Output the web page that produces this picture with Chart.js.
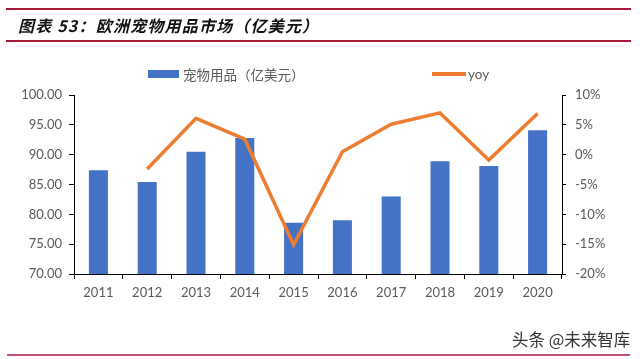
<!DOCTYPE html>
<html>
<head>
<meta charset="utf-8">
<script src="https://cdn.jsdelivr.net/npm/chart.js@4/dist/chart.umd.min.js"></script>
<style>
  html, body { margin: 0; padding: 0; background: #fff; }
  #wrap { position: relative; width: 640px; height: 359px; overflow: hidden; }
  canvas { position: absolute; left: 0; top: 0; }
  .hline { position: absolute; height: 1.5px; }
  .txt { position: absolute; white-space: nowrap; }
</style>
</head>
<body>
<div id="wrap">
  <canvas id="c" width="640" height="359"></canvas>
  <div class="hline" style="left:6px; width:625px; top:8px; background:#a8173a;"></div>
  <div class="hline" style="left:6px; width:625px; top:40px; background:#a8173a;"></div>
  <div class="txt" style="left:18px; top:14px; font:italic bold 16px 'Noto Sans CJK SC'; color:#111; line-height:22px; letter-spacing:1.2px;">图表 53：欧洲宠物用品市场（亿美元）</div>
  <div style="position:absolute; left:148px; top:70px; width:31px; height:8px; background:#4472C4;"></div>
  <div class="txt" style="left:183px; top:64px; font:13.5px 'Noto Sans CJK SC'; color:#595959; line-height:20px;">宠物用品（亿美元）</div>
  <div style="position:absolute; left:432px; top:72px; width:34px; height:3.5px; background:#ED7D31;"></div>
  <div class="txt" style="left:468px; top:64px; font:13.5px Lato; color:#595959; line-height:20px;">yoy</div>
  <div class="txt" style="left:512px; top:328px; font:16.5px 'Noto Sans CJK SC'; color:#333; line-height:22px;">头条 @未来智库</div>
  <div class="hline" style="left:7px; width:623px; top:354px; height:2px; background:#c2507a;"></div>
</div>
<script>
const years = ['2011','2012','2013','2014','2015','2016','2017','2018','2019','2020'];
const marketValues = [87.4, 85.4, 90.5, 92.8, 78.6, 79.0, 83.0, 88.9, 88.1, 94.1];
const yoyValues = [null, -2.4, 6.1, 2.6, -15.1, 0.5, 5.1, 7.0, -0.9, 6.9];
const leftTicks = [70, 100, 5];
const rightTicks = [-20, 10, 5];

const tickFont = { family: 'Lato', size: 13 };
new Chart(document.getElementById('c'), {
  data: {
    labels: years,
    datasets: [
      {
        type: 'line', label: 'yoy', data: yoyValues, yAxisID: 'y2',
        borderColor: '#ED7D31', borderWidth: 3.5, pointRadius: 0, tension: 0,
        spanGaps: false, order: 0
      },
      {
        type: 'bar', label: '宠物用品（亿美元）', data: marketValues, yAxisID: 'y',
        backgroundColor: '#4472C4', categoryPercentage: 1, barPercentage: 0.39, order: 1
      }
    ]
  },
  options: {
    responsive: false, animation: false, devicePixelRatio: 1,
    layout: { padding: { top: 95, left: 0, right: 0, bottom: 0 } },
    plugins: { legend: { display: false }, tooltip: { enabled: false } },
    scales: {
      x: {
        offset: true,
        grid: { offset: true, drawOnChartArea: false, tickLength: 5, color: '#000' },
        border: { color: '#000', width: 1 },
        ticks: { font: tickFont, color: '#595959', padding: 6, maxRotation: 0 },
        afterFit: s => { s.height = 85; }
      },
      y: {
        position: 'left', min: leftTicks[0], max: leftTicks[1],
        grid: { drawOnChartArea: false, tickLength: 5, color: '#000' },
        border: { color: '#000', width: 1 },
        ticks: { stepSize: leftTicks[2], font: tickFont, color: '#595959', padding: 7,
                 callback: v => v.toFixed(2) },
        afterFit: s => { s.width = 74; }
      },
      y2: {
        position: 'right', min: rightTicks[0], max: rightTicks[1],
        grid: { drawOnChartArea: false, tickLength: 4, color: '#000' },
        border: { color: '#000', width: 1 },
        ticks: { stepSize: rightTicks[2], font: tickFont, color: '#595959', padding: 9,
                 callback: v => v + '%' },
        afterFit: s => { s.width = 78; }
      }
    }
  }
});
</script>
</body>
</html>
